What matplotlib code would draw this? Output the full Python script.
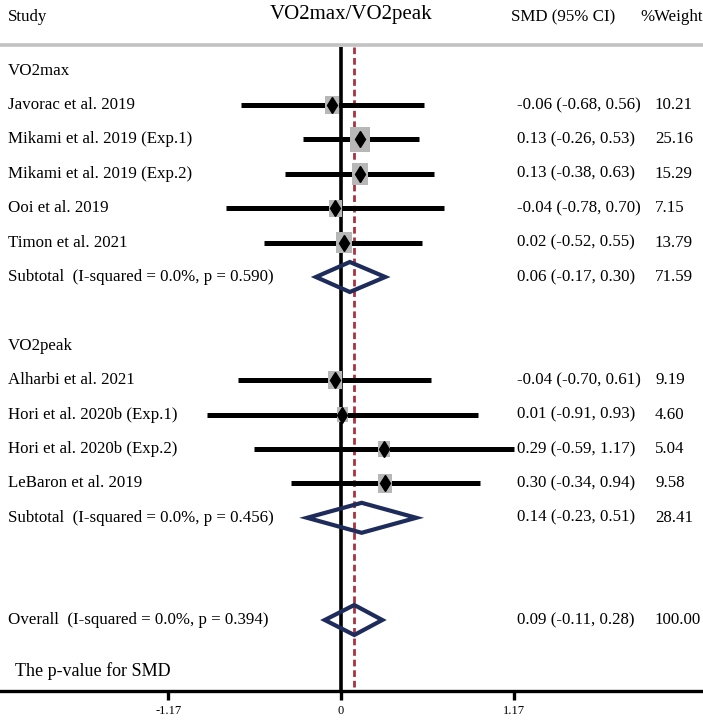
import matplotlib
matplotlib.use("Agg")
import matplotlib.pyplot as plt
from matplotlib.patches import Rectangle, Polygon
import numpy as np

# ---------------- data ----------------
studies_max = ["Javorac et al. 2019", "Mikami et al. 2019 (Exp.1)", "Mikami et al. 2019 (Exp.2)",
               "Ooi et al. 2019", "Timon et al. 2021"]
smd_max = [-0.06, 0.13, 0.13, -0.04, 0.02]
lo_max = [-0.68, -0.26, -0.38, -0.78, -0.52]
hi_max = [0.56, 0.53, 0.63, 0.70, 0.55]
w_max = [10.21, 25.16, 15.29, 7.15, 13.79]
sub_max = [0.06, -0.17, 0.30]
sub_max_w = 71.59
sub_max_label = "Subtotal  (I-squared = 0.0%, p = 0.590)"

studies_peak = ["Alharbi et al. 2021", "Hori et al. 2020b (Exp.1)", "Hori et al. 2020b (Exp.2)",
                "LeBaron et al. 2019"]
smd_peak = [-0.04, 0.01, 0.29, 0.30]
lo_peak = [-0.70, -0.91, -0.59, -0.34]
hi_peak = [0.61, 0.93, 1.17, 0.94]
w_peak = [9.19, 4.60, 5.04, 9.58]
sub_peak = [0.14, -0.23, 0.51]
sub_peak_w = 28.41
sub_peak_label = "Subtotal  (I-squared = 0.0%, p = 0.456)"

overall = [0.09, -0.11, 0.28]
overall_w = 100.00
overall_label = "Overall  (I-squared = 0.0%, p = 0.394)"

group_labels = ["VO2max", "VO2peak"]
tick_vals = [-1.17, 0, 1.17]
tick_labels = ["-1.17", "0", "1.17"]

# ---------------- layout ----------------
W, H, DPI = 703, 724, 100
plt.rcParams['font.family'] = ['Liberation Serif', 'DejaVu Serif']
fig = plt.figure(figsize=(W / DPI, H / DPI), dpi=DPI)

X0, XS = 341.0, 147.5      # pixel of x=0, pixels per unit
Y0, YS = 70.6, 34.4        # pixel of row 0, pixels per row
AXB = 691.0                # pixel of the axis line

ax = fig.add_axes([0, (H - AXB) / H, 1, AXB / H])
ax.set_xlim(-X0 / XS, (W - X0) / XS)
ax.set_ylim((AXB - Y0) / YS, -Y0 / YS)


def px(p):
    return (p - X0) / XS


def py(p):
    return (p - Y0) / YS


FS = 12.2
NAVY = '#1d2c5b'
GREY = '#b7b7b7'
RED = '#a8323e'

ax.axhline(py(45), color='#c2c2c2', lw=2.6, zorder=1)
ybot = (AXB - Y0) / YS
ax.plot([0, 0], [py(47), ybot], color='black', lw=2.6, zorder=1, solid_capstyle='butt')
ax.plot([overall[0]] * 2, [py(47), ybot], color=RED, lw=2.0, dashes=(2.4, 1.4), zorder=1)

# headers
ax.text(px(8), py(17), "Study", fontsize=FS, va='center', ha='left')
ax.text(px(351), py(15), "VO2max/VO2peak", fontsize=15, va='center', ha='center')
ax.text(px(511), py(17), "SMD (95% CI)", fontsize=FS, va='center', ha='left')
ax.text(px(640), py(17), "%Weight", fontsize=FS, va='center', ha='left')

XT = px(8)
XSMD = px(517)
XW = px(655)


def fmt(e, l, h):
    return f"{e:.2f} ({l:.2f}, {h:.2f})"


def study_row(r, name, e, l, h, w):
    ax.plot([l, h], [r, r], color='black', lw=3.6, solid_capstyle='butt', zorder=2)
    hp = 7.2 + 3.66 * np.sqrt(w)
    wp = 0.77 * hp
    bw, bh = wp / XS, hp / YS
    ax.add_patch(Rectangle((e - bw / 2, r - bh / 2), bw, bh, facecolor=GREY, edgecolor='none', zorder=3))
    ax.plot([e], [r], marker='d', ms=8, color='black', zorder=4)
    ax.text(XT, r, name, fontsize=FS, va='center', ha='left')
    ax.text(XSMD, r, fmt(e, l, h), fontsize=FS, va='center', ha='left')
    ax.text(XW, r, f"{w:.2f}", fontsize=FS, va='center', ha='left')


def diamond_row(r, label, vals, w):
    e, l, h = vals
    dh = 15.0 / YS
    ax.add_patch(Polygon([(l, r), (e, r - dh), (h, r), (e, r + dh)], closed=True, fill=False,
                         edgecolor=NAVY, lw=3.0, joinstyle='miter', zorder=4))
    ax.text(XT, r, label, fontsize=FS, va='center', ha='left')
    ax.text(XSMD, r, fmt(e, l, h), fontsize=FS, va='center', ha='left')
    ax.text(XW, r, f"{w:.2f}", fontsize=FS, va='center', ha='left')


row = 0
ax.text(XT, row, group_labels[0], fontsize=FS, va='center', ha='left')
for i in range(len(studies_max)):
    row += 1
    study_row(row, studies_max[i], smd_max[i], lo_max[i], hi_max[i], w_max[i])
row += 1
diamond_row(row, sub_max_label, sub_max, sub_max_w)

row += 2
ax.text(XT, row, group_labels[1], fontsize=FS, va='center', ha='left')
for i in range(len(studies_peak)):
    row += 1
    study_row(row, studies_peak[i], smd_peak[i], lo_peak[i], hi_peak[i], w_peak[i])
row += 1
diamond_row(row, sub_peak_label, sub_peak, sub_peak_w)

diamond_row(py(620), overall_label, overall, overall_w)

ax.text(px(15), py(671), "The p-value for SMD", fontsize=13, va='center', ha='left')

# axis
for s in ['top', 'left', 'right']:
    ax.spines[s].set_visible(False)
ax.spines['bottom'].set_linewidth(2.4)
ax.set_yticks([])
ax.set_xticks(tick_vals)
ax.set_xticklabels(tick_labels, fontsize=9)
ax.tick_params(axis='x', direction='out', length=6.5, width=2.4, pad=3.5)

fig.savefig("out.png", dpi=DPI)
